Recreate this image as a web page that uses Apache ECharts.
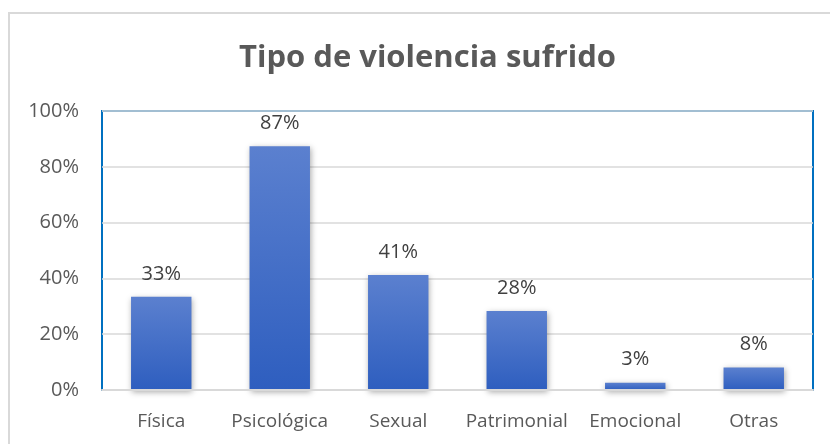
<!DOCTYPE html>
<html>
<head>
<meta charset="utf-8">
<script src="https://cdn.jsdelivr.net/npm/echarts@6/dist/echarts.min.js"></script>
<style>
  html, body { margin: 0; padding: 0; background: #fff; }
  #bar { width: 830px; height: 444px; }
</style>
</head>
<body>
<div id="bar"></div>
<script>
// datos del gráfico
var categorias = ['Física', 'Psicológica', 'Sexual', 'Patrimonial', 'Emocional', 'Otras'];
var porcentajes = [33.4, 87.4, 41.2, 28.3, 2.6, 8.1];
var tituloTexto = 'Tipo de violencia sufrido';

var myChart = echarts.init(document.getElementById('bar'));

var option = {
  backgroundColor: '#ffffff',
  animation: false,
  title: {
    text: tituloTexto,
    left: 234,
    top: 38,
    textStyle: {
      fontFamily: 'Open Sans',
      fontWeight: 'bold',
      fontSize: 31,
      color: '#595959'
    }
  },
  graphic: [
    { // borde exterior del gráfico
      type: 'rect',
      shape: { x: 9, y: 13, width: 840, height: 450 },
      style: { fill: 'none', stroke: '#d9d9d9', lineWidth: 2 },
      silent: true
    }
  ],
  grid: {
    left: 102,
    right: 17,
    top: 111,
    bottom: 54,
    show: true,
    borderColor: '#0070c0',
    borderWidth: 2,
    containLabel: false
  },
  xAxis: {
    type: 'category',
    data: categorias,
    axisTick: { show: false },
    axisLine: { show: true, lineStyle: { color: '#d9d9d9', width: 2 } },
    axisLabel: {
      interval: 0,
      margin: 22,
      fontFamily: 'Open Sans',
      fontSize: 19,
      color: '#595959'
    },
    z: 5
  },
  yAxis: {
    type: 'value',
    min: 0,
    max: 100,
    interval: 20,
    axisLine: { show: false },
    axisTick: { show: false },
    splitLine: { lineStyle: { color: '#d9d9d9', width: 1.5 } },
    axisLabel: {
      margin: 23,
      formatter: '{value}%',
      fontFamily: 'Open Sans',
      fontSize: 20,
      color: '#595959'
    }
  },
  series: [
    {
      type: 'bar',
      data: porcentajes,
      barWidth: '51%',
      itemStyle: {
        color: new echarts.graphic.LinearGradient(0, 0, 0, 1, [
          { offset: 0, color: '#5b80cf' },
          { offset: 1, color: '#2e5ebf' }
        ]),
        shadowColor: 'rgba(0,0,0,0.35)',
        shadowBlur: 6,
        shadowOffsetX: 1,
        shadowOffsetY: 2
      },
      label: {
        show: true,
        position: 'top',
        distance: 13,
        formatter: function (p) { return Math.round(p.value) + '%'; },
        fontFamily: 'Open Sans',
        fontSize: 20,
        color: '#404040'
      }
    }
  ]
};

myChart.setOption(option);
</script>
</body>
</html>
